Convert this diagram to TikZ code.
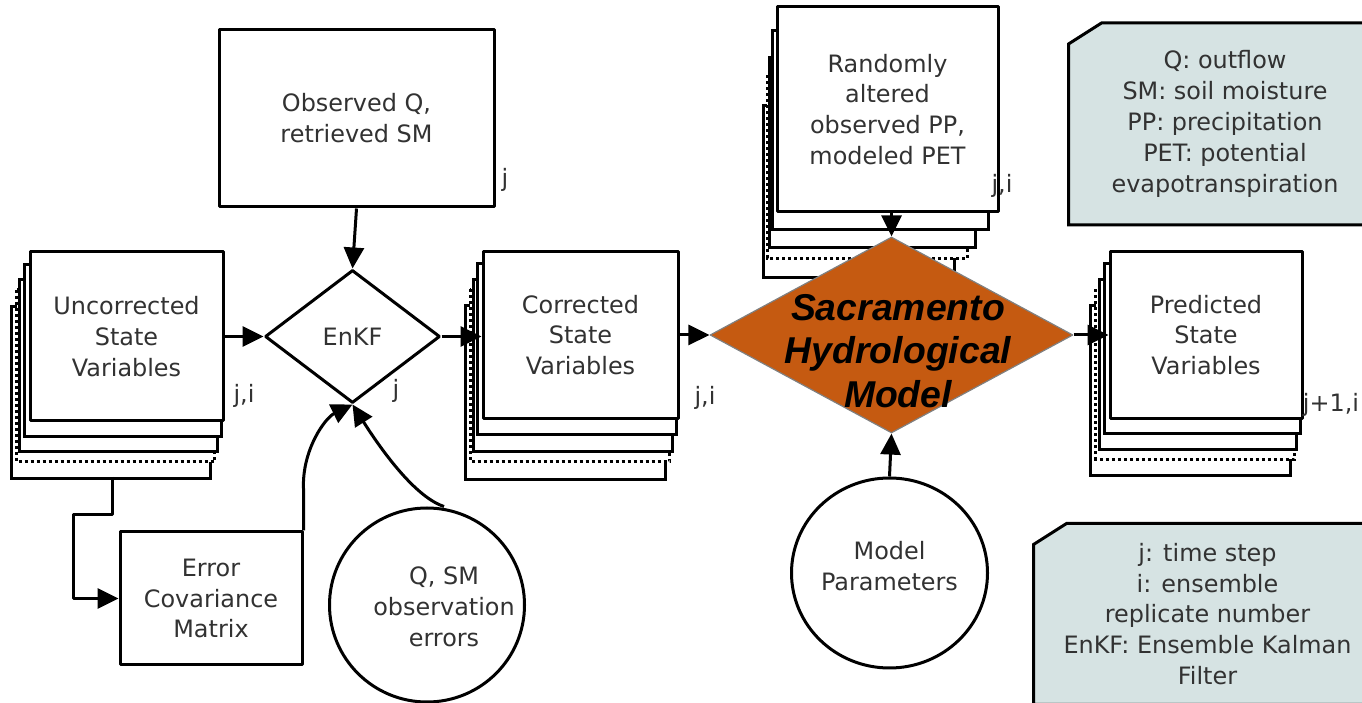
\documentclass[tikz,border=0pt]{standalone}
\usepackage{fontspec}
\setmainfont{DejaVu Sans}
\newfontfamily\modelfont{Liberation Sans}
\usetikzlibrary{arrows.meta,shapes.geometric,calc,backgrounds}
\definecolor{modelorange}{RGB}{197,90,17}
\definecolor{notegray}{RGB}{214,227,227}
\definecolor{textgray}{RGB}{50,50,50}
\tikzset{
  box/.style={draw,fill=white,inner sep=0pt,align=center},
  decision/.style={diamond,draw,inner sep=0pt,align=center},
  bubble/.style={ellipse,draw,inner sep=0pt,align=center},
  notebox/.style={rectangle,inner sep=0pt,align=center},
  notefill/.style={draw,fill=notegray,line width=3bp,line join=miter},
  layer/.style={draw,fill=white,line width=3bp},
  solidlayer/.style={layer},
  dotlayer/.style={layer,dash pattern=on 3bp off 3bp},
  idx/.style={inner sep=0pt},
}
\begin{document}
\begin{tikzpicture}[>={Triangle[length=21bp,width=20bp]},line join=bevel,line width=3bp,
  font=\fontsize{24}{31}\selectfont,text=textgray]
\useasboundingbox (0bp,0bp) rectangle (1362bp,703bp);
%%
\node (node_obs) at (356.5bp,584.5bp) [box,minimum width=275bp,minimum height=177bp] {Observed Q,\\retrieved SM};
  \node (node_uncorr) at (126.5bp,366.5bp) [box,minimum width=193bp,minimum height=169bp] {Uncorrected\\State\\Variables};
  \node (node_enkf) at (352.5bp,366.5bp) [decision,minimum width=175bp,minimum height=133bp] {EnKF};
  \node (node_corr) at (580.5bp,368bp) [box,minimum width=195bp,minimum height=167bp] {Corrected\\State\\Variables};
  \node (node_model) at (891.5bp,368bp) [decision,draw=gray,line width=1.2bp,fill=modelorange,
    minimum width=363bp,minimum height=196bp,
    label={[xshift=6.5bp,yshift=-16bp,align=center,text=black,
      font=\modelfont\bfseries\itshape\fontsize{37.5}{44}\selectfont]center:{Sacramento\\Hydrological\\Model}}] {};
  \node (node_forcing) at (887.5bp,593.5bp) [box,minimum width=221bp,minimum height=205bp] {Randomly\\altered\\observed PP,\\modeled PET};
  \node (node_pred) at (1206bp,368bp) [box,minimum width=192bp,minimum height=167bp] {Predicted\\State\\Variables};
  \node (node_cov) at (211bp,104.5bp) [box,minimum width=182bp,minimum height=133bp] {Error\\Covariance\\Matrix};
  \node (node_errs) at (427bp,98bp) [bubble,minimum width=195bp,minimum height=194bp,
    label={[xshift=17bp,yshift=-2bp,align=center]center:{Q, SM\\observation\\errors}}] {};
  \node (node_params) at (889.5bp,130bp) [bubble,minimum width=196bp,minimum height=190bp,
    label={[yshift=7bp,align=center]center:{Model\\Parameters}}] {};
  \node (node_legend) at (1225bp,579bp) [notebox,minimum width=310bp,minimum height=199bp] {Q: outflow\\SM: soil moisture\\PP: precipitation\\PET: potential\\evapotranspiration};
  \node (node_key) at (1207.5bp,89bp) [notebox,minimum width=345bp,minimum height=178bp] {j: time step\\i: ensemble\\replicate number\\EnKF: Ensemble Kalman\\Filter};
%
  \node (lbl_obs) at (505bp,523bp) [idx] {j};
  \node (lbl_uncorr) at (244bp,307bp) [idx] {j,i};
  \node (lbl_enkf) at (396bp,312bp) [idx] {j};
  \node (lbl_corr) at (705bp,305bp) [idx] {j,i};
  \node (lbl_forcing) at (1002bp,517bp) [idx] {j,i};
  \node (lbl_pred) at (1331bp,298bp) [idx] {j+1,i};
%
\begin{scope}[on background layer]
\foreach \n/\dt/\db/\dl/\dr in {node_uncorr/14/14/4.25/3.5,node_corr/14/15/4/3.5,node_pred/14/14/4.5/3.3,node_forcing/25/16/3/11.3}
  \foreach \k/\ls in {4/solidlayer,2.8/dotlayer,2.1/solidlayer,1/solidlayer}
    \draw [\ls] ($(\n.north west)+(-\dl*\k*1bp,-\dt*\k*1bp)$) rectangle ($(\n.south east)+(-\dr*\k*1bp,-\db*\k*1bp)$);
\foreach \n in {node_legend,node_key}
  \draw [notefill] ([yshift=-21bp]\n.north west) -- ([xshift=33bp]\n.north west) -- (\n.north east) -- (\n.south east) -- (\n.south west) -- cycle;
\end{scope}
%
  \draw [black,->] (node_uncorr.east) -- (node_enkf.west);
  \draw [black,->] (node_obs.south) -- (node_enkf.north);
  \draw [black,->] (node_enkf.east) -- (node_enkf.east -| node_corr.west);
  \draw [black,->] (node_corr.east) -- (node_model.west);
  \draw [black,->] (node_forcing.south -| node_model.north) -- (node_model.north);
  \draw [black,->] (node_model.east) -- (node_pred.west);
  \draw [black,->] (node_params.north) -- (node_model.south);
  \coordinate (uncorr_tail) at (112bp,226bp);
  \draw [black,->] (uncorr_tail) -- ++(0bp,-38bp) -- ++(-39bp,0bp) |- (node_cov.west);
  \draw [black,->] (node_cov.north east) -- ++(0bp,42bp) .. controls (302bp,253bp) and (325bp,285bp) .. (node_enkf.south);
  \draw [black,->] ([xshift=17bp]node_errs.north) .. controls (412bp,207bp) and (375bp,263bp) .. (node_enkf.south);
%
\end{tikzpicture}
\end{document}
